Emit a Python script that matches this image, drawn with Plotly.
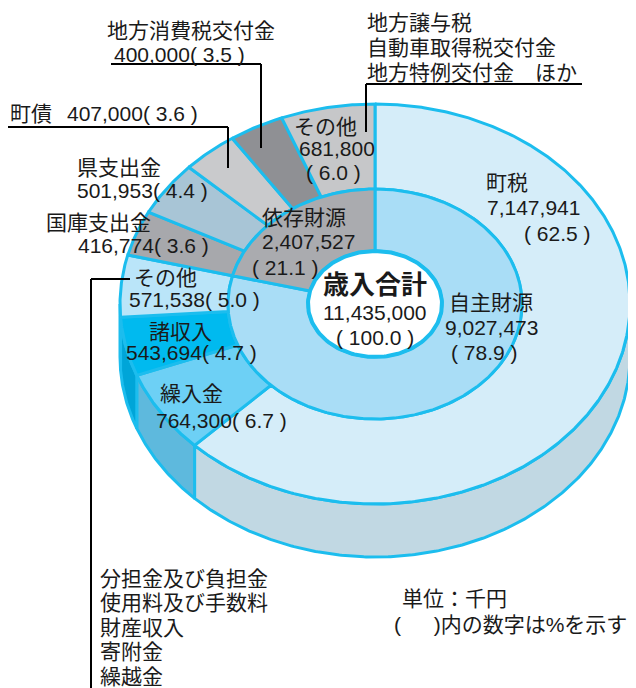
import math
import plotly.graph_objects as go

# ---------------- data ----------------
outer_labels = ["町税", "繰入金", "諸収入", "その他", "国庫支出金", "県支出金", "町債", "地方消費税交付金", "その他"]
outer_values = [7147941, 764300, 543694, 571538, 416774, 501953, 407000, 400000, 681800]
outer_pcts = [62.5, 6.7, 4.7, 5.0, 3.6, 4.4, 3.6, 3.5, 6.0]

inner_labels = ["自主財源", "依存財源"]
inner_values = [9027473, 2407527]
inner_pcts = [78.9, 21.1]

total_label = "歳入合計"
total_value = 11435000
total_pct = 100.0

other_items = ["分担金及び負担金", "使用料及び手数料", "財産収入", "寄附金", "繰越金"]
other2_items = ["地方譲与税", "自動車取得税交付金", "地方特例交付金　ほか"]
unit_lines = ["単位：千円", "(\u3000\u00a0\u00a0)内の数字は%を示す"]

# ---------------- style / geometry ----------------
outer_colors = ["#D5EDF9", "#6DD0F5", "#00BAEF", "#BAE5F9", "#A7A8AC", "#A8C5D6", "#C9CACC", "#8F9094", "#C6C7C9"]
side_colors = ["#C1D8E3", "#5EB9DD", "#00A5D8", "#9FD4EA", "#9A9A9E", "#98B4C4", "#B8B8BA", "#808084", "#B5B5B7"]
inner_colors = ["#A9DDF6", "#AAABAF"]
EDGE = "#1CBDEE"
TXT = "#1a1a1a"
FONT = "Liberation Sans, Arial, Noto Sans CJK JP"

PAGE_W, PAGE_H = 636, 688
OFF = 8  # default page body margin
CX, CY = 375, 304
RX_O, RY_O = 255, 200
RX_M, RY_M = 147, 115
RX_H, RY_H = 67, 53
DEPTH = 53


def pt(a, rx, ry, dy=0.0):
    t = math.radians(a)
    return CX + rx * math.sin(t), CY - ry * math.cos(t) + dy


def arc(a, b, rx, ry, dy=0.0, n=None):
    if n is None:
        n = max(4, int(abs(b - a) * 2))
    xs, ys = [], []
    for i in range(n + 1):
        x, y = pt(a + (b - a) * i / n, rx, ry, dy)
        xs.append(x)
        ys.append(y)
    return xs, ys


def cum_angles(vals):
    tot = sum(vals)
    out, c = [], 0.0
    for v in vals:
        a = c / tot * 360
        c += v
        out.append((a, c / tot * 360))
    return out


fig = go.Figure()

outer_ang = cum_angles(outer_values)
inner_ang = cum_angles(inner_values)

# side walls (front half only: 90..270 deg)
for (a, b), col in zip(outer_ang, side_colors):
    lo, hi = max(a, 90), min(b, 270)
    if hi <= lo:
        continue
    x1, y1 = arc(lo, hi, RX_O, RY_O)
    x2, y2 = arc(hi, lo, RX_O, RY_O, DEPTH)
    fig.add_trace(go.Scatter(x=x1 + x2 + [x1[0]], y=y1 + y2 + [y1[0]], mode="lines",
                             fill="toself", fillcolor=col, line=dict(color=EDGE, width=3),
                             hoverinfo="skip"))

# top outer ring
for (a, b), col in zip(outer_ang, outer_colors):
    x1, y1 = arc(a, b, RX_O, RY_O)
    x2, y2 = arc(b, a, RX_M, RY_M)
    fig.add_trace(go.Scatter(x=x1 + x2 + [x1[0]], y=y1 + y2 + [y1[0]], mode="lines",
                             fill="toself", fillcolor=col, line=dict(color=EDGE, width=3),
                             hoverinfo="skip"))

# inner ring
for (a, b), col in zip(inner_ang, inner_colors):
    x1, y1 = arc(a, b, RX_M, RY_M)
    x2, y2 = arc(b, a, RX_H, RY_H)
    fig.add_trace(go.Scatter(x=x1 + x2 + [x1[0]], y=y1 + y2 + [y1[0]], mode="lines",
                             fill="toself", fillcolor=col, line=dict(color=EDGE, width=3),
                             hoverinfo="skip"))

# hole
hx, hy = arc(0, 360, RX_H, RY_H, n=180)
fig.add_trace(go.Scatter(x=hx, y=hy, mode="lines", fill="toself", fillcolor="white",
                         line=dict(color=EDGE, width=4), hoverinfo="skip"))

# ---------------- text ----------------
def txt(s, x, y, size=21, anchor="left", bold=False):
    fig.add_annotation(x=x, y=y, xref="x", yref="y", text=("<b>%s</b>" % s) if bold else s,
                       showarrow=False, xanchor=anchor, yanchor="middle", borderpad=0,
                       font=dict(family=FONT, size=size, color=TXT))


def val_txt(i):
    return "{:,}( {} )".format(outer_values[i], outer_pcts[i])


# 町税
txt(outer_labels[0], 485, 182)
txt("{:,}".format(outer_values[0]), 486, 207)
txt("( {} )".format(outer_pcts[0]), 523, 233)
# 繰入金
txt(outer_labels[1], 159, 393)
txt(val_txt(1), 155, 420)
# 諸収入
txt(outer_labels[2], 180, 331, anchor="center")
txt(val_txt(2), 125, 352)
# その他 (自主)
txt(outer_labels[3], 133, 277)
txt(val_txt(3), 128, 299)
# 国庫支出金
txt(outer_labels[4], 45, 222)
txt(val_txt(4), 77, 245)
# 県支出金
txt(outer_labels[5], 76, 167)
txt(val_txt(5), 76, 190)
# 町債
txt(outer_labels[6], 8.5, 113)
txt(val_txt(6), 66, 113)
# 地方消費税交付金
txt(outer_labels[7], 106, 30)
txt(val_txt(7), 113, 54)
# その他 (依存)
txt(outer_labels[8], 293, 126)
txt("{:,}".format(outer_values[8]), 298, 148)
txt("( {} )".format(outer_pcts[8]), 305, 172)

# inner
txt(inner_labels[0], 448, 302)
txt("{:,}".format(inner_values[0]), 444, 327)
txt("( {} )".format(inner_pcts[0]), 450, 352)
txt(inner_labels[1], 261, 217)
txt("{:,}".format(inner_values[1]), 261, 241)
txt("( {} )".format(inner_pcts[1]), 251, 267)

# centre
txt(total_label, 375, 285, size=26, anchor="center", bold=True)
txt("{:,}".format(total_value), 375, 312, anchor="center")
txt("( {} )".format(total_pct), 375, 337, anchor="center")

# lists
for i, s in enumerate(other2_items):
    txt(s, 366, 22 + 25 * i)
for i, s in enumerate(other_items):
    txt(s, 99, 578 + 24.5 * i)
txt(unit_lines[0], 401, 598)
txt(unit_lines[1], 393, 624, size=21)

# leader lines
def seg(x0, y0, x1, y1):
    fig.add_shape(type="line", x0=x0, y0=y0, x1=x1, y1=y1, xref="x", yref="y",
                  line=dict(color="black", width=2))


seg(111, 64, 261, 64); seg(261, 64, 261, 148)
seg(8, 127, 228, 127); seg(228, 127, 228, 168)
seg(91, 279, 130, 279); seg(91, 279, 91, 700)
seg(366, 84, 582, 84); seg(366, 84, 366, 132)

fig.update_layout(width=PAGE_W - OFF, height=PAGE_H - OFF, margin=dict(l=0, r=0, t=0, b=0),
                  paper_bgcolor="white", plot_bgcolor="white", showlegend=False,
                  xaxis=dict(range=[OFF, PAGE_W], visible=False, fixedrange=True),
                  yaxis=dict(range=[PAGE_H, OFF], visible=False, fixedrange=True))

fig.write_html("out.html", config={"displayModeBar": False})
